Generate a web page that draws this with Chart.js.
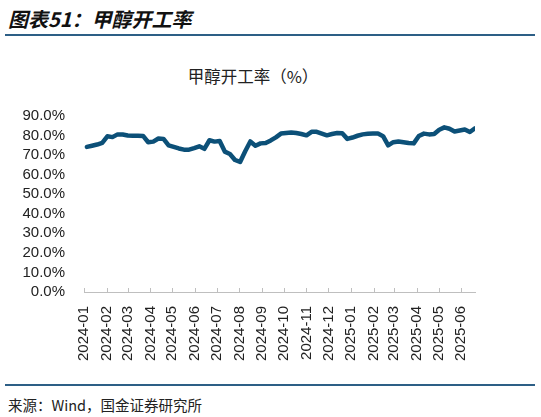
<!DOCTYPE html>
<html>
<head>
<meta charset="utf-8">
<script src="https://cdn.jsdelivr.net/npm/chart.js@4"></script>
<style>
  body { margin: 0; background: #fff; width: 541px; height: 417px; overflow: hidden; position: relative; }
  .head { position: absolute; left: 8px; top: 4px; font: italic bold 20px "Noto Sans CJK SC"; color: #111; }
  .rule { position: absolute; left: 5px; width: 530px; height: 2px; background: #2d5f86; }
  .ctitle { position: absolute; left: 0; width: 506px; top: 64px; text-align: center; font: 16.5px "Noto Sans CJK SC"; color: #222; }
  .foot { position: absolute; left: 8px; top: 394px; font: 14.5px "Noto Sans CJK SC"; color: #222; }
  #wrap { position: absolute; left: 0; top: 96px; width: 541px; height: 290px; }
</style>
</head>
<body>
<div class="head">图表51：甲醇开工率</div>
<div class="rule" style="top:34px"></div>
<div class="ctitle">甲醇开工率（%）</div>
<div id="wrap"><canvas id="c"></canvas></div>
<div class="rule" style="top:384px"></div>
<div class="foot">来源：Wind，国金证券研究所</div>
<script>
// weekly dates (Fridays)
const dates = [
  '2024-01-05','2024-01-12','2024-01-19','2024-01-26','2024-02-02','2024-02-09','2024-02-16','2024-02-23',
  '2024-03-01','2024-03-08','2024-03-15','2024-03-22','2024-03-29','2024-04-05','2024-04-12','2024-04-19',
  '2024-04-26','2024-05-03','2024-05-10','2024-05-17','2024-05-24','2024-05-31','2024-06-07','2024-06-14',
  '2024-06-21','2024-06-28','2024-07-05','2024-07-12','2024-07-19','2024-07-26','2024-08-02','2024-08-09',
  '2024-08-16','2024-08-23','2024-08-30','2024-09-06','2024-09-13','2024-09-20','2024-09-27','2024-10-04',
  '2024-10-11','2024-10-18','2024-10-25','2024-11-01','2024-11-08','2024-11-15','2024-11-22','2024-11-29',
  '2024-12-06','2024-12-13','2024-12-20','2024-12-27','2025-01-03','2025-01-10','2025-01-17','2025-01-24',
  '2025-01-31','2025-02-07','2025-02-14','2025-02-21','2025-02-28','2025-03-07','2025-03-14','2025-03-21',
  '2025-03-28','2025-04-04','2025-04-11','2025-04-18','2025-04-25','2025-05-02','2025-05-09','2025-05-16',
  '2025-05-23','2025-05-30','2025-06-06','2025-06-13','2025-06-20'
];

// 甲醇开工率 (%)
const rate = [
  74.2, 74.8, 75.4, 76.3, 79.6, 79.2, 80.6, 80.5, 80.0, 79.9, 79.9, 79.8,
  76.6, 76.9, 78.5, 78.3, 75.0, 74.2, 73.4, 72.8, 72.8, 73.6, 74.5, 73.2,
  77.6, 76.9, 77.2, 71.8, 70.6, 67.5, 66.5, 72.0, 77.0, 74.8, 76.0, 76.2,
  77.5, 79.1, 81.0, 81.3, 81.6, 81.3, 80.8, 80.1, 81.9, 81.9, 81.0, 80.1,
  80.8, 81.3, 81.2, 78.3, 79.0, 79.9, 80.6, 80.9, 81.0, 81.0, 79.7, 75.0,
  76.6, 77.0, 76.6, 76.2, 76.0, 79.8, 81.0, 80.6, 80.8, 83.0, 84.2, 83.5,
  82.1, 82.6, 83.1, 81.8, 83.7
];

const monthLabels = [
  '2024-01','2024-02','2024-03','2024-04','2024-05','2024-06','2024-07','2024-08','2024-09',
  '2024-10','2024-11','2024-12','2025-01','2025-02','2025-03','2025-04','2025-05','2025-06'
];

const origin = Date.UTC(2024, 0, 1);
function dayOf(s) {
  const p = s.split('-').map(Number);
  return (Date.UTC(p[0], p[1] - 1, p[2]) - origin) / 86400000;
}
const monthDays = monthLabels.map(m => dayOf(m + '-01'));

// small tick marks pointing up from the x axis line
const upTicks = {
  id: 'upTicks',
  afterDraw(chart) {
    const x = chart.scales.x, ctx = chart.ctx, y = chart.chartArea.bottom;
    ctx.save();
    ctx.strokeStyle = '#bfbfbf';
    ctx.lineWidth = 1;
    monthDays.forEach(d => {
      const px = Math.round(x.getPixelForValue(d)) + 0.5;
      ctx.beginPath();
      ctx.moveTo(px, y);
      ctx.lineTo(px, y - 4);
      ctx.stroke();
    });
    ctx.restore();
  }
};

new Chart(document.getElementById('c'), {
  type: 'line',
  data: {
    datasets: [{
      label: '甲醇开工率',
      data: dates.map((d, i) => ({ x: dayOf(d), y: rate[i] })),
      borderColor: '#0c5078',
      borderWidth: 4.5,
      pointRadius: 0,
      tension: 0,
      borderJoinStyle: 'round',
      borderCapStyle: 'round'
    }]
  },
  options: {
    responsive: true,
    maintainAspectRatio: false,
    animation: false,
    layout: { padding: { left: 0, right: 66, top: 12, bottom: 0 } },
    plugins: { legend: { display: false }, tooltip: { enabled: false } },
    scales: {
      x: {
        type: 'linear',
        min: 0,
        max: dayOf(dates[dates.length - 1]),
        grid: { display: false },
        border: { display: true, color: '#bfbfbf', width: 1 },
        afterBuildTicks: s => { s.ticks = monthDays.map(v => ({ value: v })); },
        afterFit: s => { s.height = 94; },
        ticks: {
          autoSkip: false,
          minRotation: 90,
          maxRotation: 90,
          padding: 6,
          color: '#222',
          font: { family: 'Liberation Sans', size: 15 },
          callback: v => monthLabels[monthDays.indexOf(v)]
        }
      },
      y: {
        min: 0,
        max: 90,
        grid: { display: false },
        border: { display: false },
        afterFit: s => { s.width = 84; },
        ticks: {
          autoSkip: false,
          stepSize: 10,
          padding: 11,
          color: '#222',
          font: { family: 'Liberation Sans', size: 15 },
          callback: v => v.toFixed(1) + '%'
        }
      }
    }
  },
  plugins: [upTicks]
});
</script>
</body>
</html>
